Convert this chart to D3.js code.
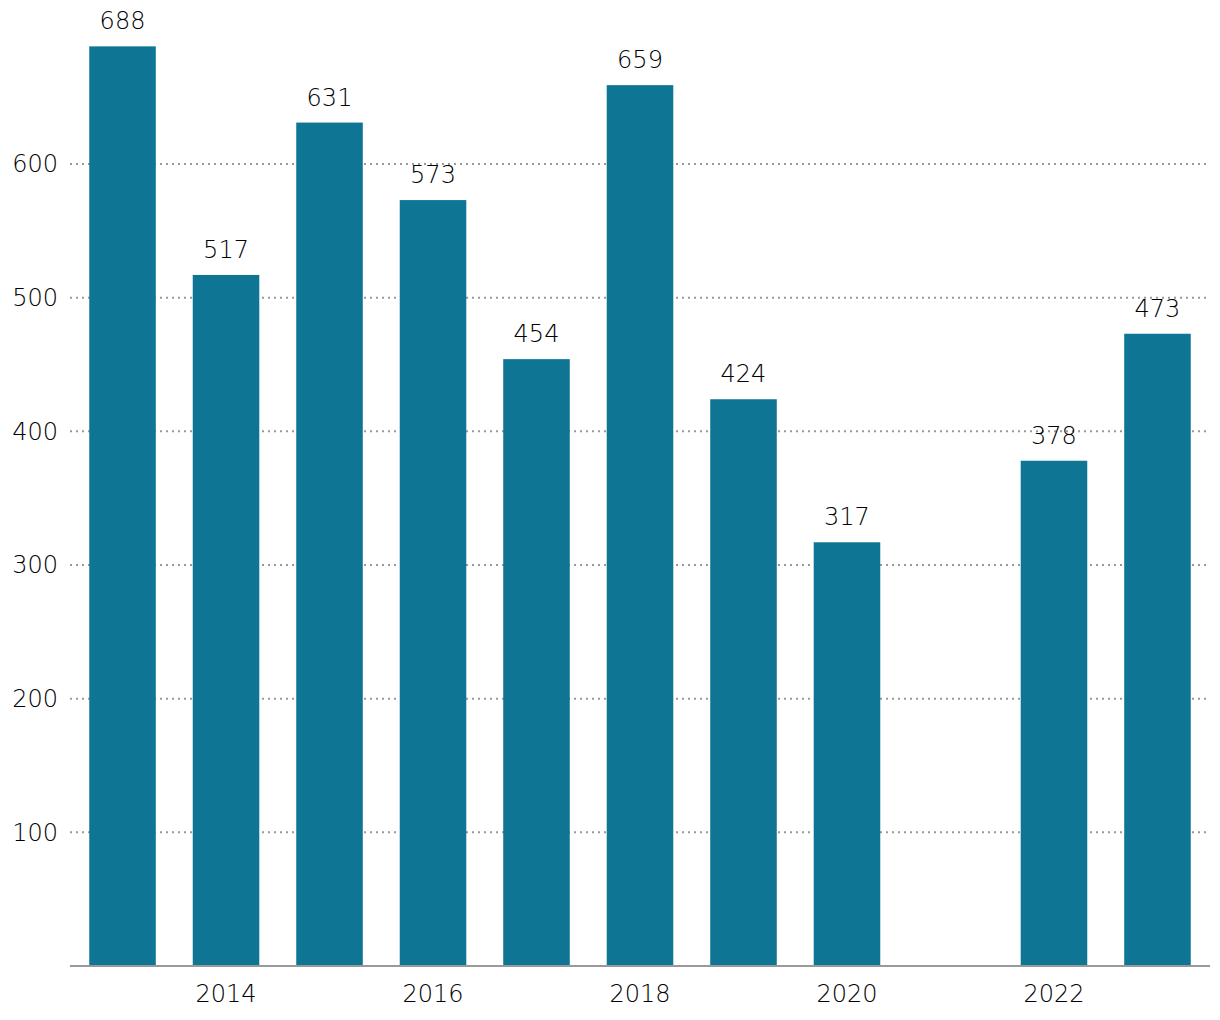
<!DOCTYPE html>
<html><head><meta charset="utf-8">
<script src="https://cdn.jsdelivr.net/npm/d3@7/dist/d3.min.js"></script>
<style>body{margin:0;background:#fff}svg{display:block}text{font-family:"DejaVu Sans",sans-serif;font-weight:300;fill:#000}</style>
</head><body>
<svg id="c" width="1220" height="1020"></svg>
<script>
const years = [2013,2014,2015,2016,2017,2018,2019,2020,2021,2022,2023];
const values = [688,517,631,573,454,659,424,317,null,378,473];
const yTicks = [100,200,300,400,500,600];
const xTickLabels = [2014,2016,2018,2020,2022];

const svg = d3.select("#c");
const x = d3.scaleBand().domain(years).range([70,1210]).paddingInner(0.357).paddingOuter(0.186);
const y = d3.scaleLinear().domain([0,600]).range([966,164]);

// gridlines
svg.append("g").selectAll("line").data(yTicks).join("line")
  .attr("x1",70).attr("x2",1210).attr("y1",d=>y(d)).attr("y2",d=>y(d))
  .attr("stroke","#999").attr("stroke-width",2).attr("stroke-dasharray","2,4");

// y labels
svg.append("g").selectAll("text").data(yTicks).join("text")
  .attr("x",58).attr("y",d=>y(d)).attr("dy","0.35em").attr("text-anchor","end")
  .attr("font-size",24).text(d=>d);

const data = years.map((yr,i)=>({yr,v:values[i]})).filter(d=>d.v!=null);

svg.append("g").selectAll("rect").data(data).join("rect")
  .attr("x",d=>x(d.yr)).attr("width",x.bandwidth())
  .attr("y",d=>y(d.v)).attr("height",d=>y(0)-y(d.v))
  .attr("fill","#0e7595");

svg.append("g").selectAll("text").data(data).join("text")
  .attr("x",d=>x(d.yr)+x.bandwidth()/2).attr("y",d=>y(d.v)-17)
  .attr("text-anchor","middle").attr("font-size",24).text(d=>d.v);

// axis line
svg.append("line").attr("x1",70).attr("x2",1210).attr("y1",966).attr("y2",966)
  .attr("stroke","#999").attr("stroke-width",2);

svg.append("g").selectAll("text").data(xTickLabels).join("text")
  .attr("x",d=>x(d)+x.bandwidth()/2).attr("y",1002)
  .attr("text-anchor","middle").attr("font-size",24).text(d=>d);
</script>
</body></html>
